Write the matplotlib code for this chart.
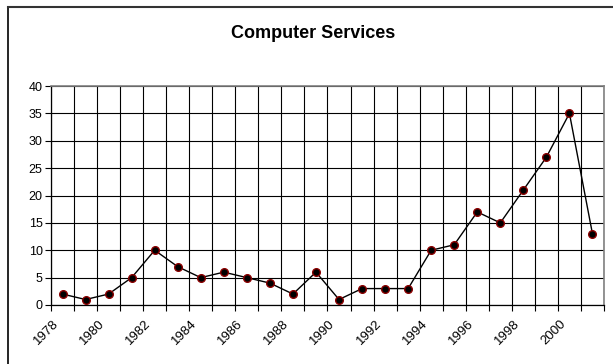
import matplotlib
matplotlib.use("Agg")
import matplotlib.pyplot as plt
from matplotlib.lines import Line2D
from matplotlib.transforms import ScaledTranslation
import numpy as np

years = list(range(1978, 2002))
values = [2, 1, 2, 5, 10, 7, 5, 6, 5, 4, 2, 6, 1, 3, 3, 3, 10, 11, 17, 15, 21, 27, 35, 13]
title = "Computer Services"

plt.rcParams["font.family"] = ["Liberation Sans", "DejaVu Sans"]

fig = plt.figure(figsize=(6.13, 3.64), dpi=100)
ax = fig.add_axes([0.0832, 0.1621, 0.9021, 0.6016])

x = np.arange(len(years))
ax.plot(x, values, color="black", lw=1.0, marker="o", markersize=5.5,
        markerfacecolor="black", markeredgecolor="#8b0000", markeredgewidth=1.0,
        zorder=3)

# category axis: ticks and gridlines between categories, labels every other year
ax.set_xlim(-0.5, len(years) - 0.5)
ax.set_xticks(np.arange(len(years) + 1) - 0.5)
ax.set_xticklabels([])
ax.tick_params(axis="x", which="major", direction="out", length=4, width=0.8)
ax.set_xticks(x[::2], minor=True)
ax.set_xticklabels([str(y) for y in years[::2]], minor=True, rotation=45,
                   ha="right", rotation_mode="anchor", fontsize=9.5)
ax.tick_params(axis="x", which="minor", length=0, pad=9)
shift = ScaledTranslation(-0.10, 0, fig.dpi_scale_trans)
for lab in ax.get_xticklabels(minor=True):
    lab.set_transform(lab.get_transform() + shift)

ax.set_ylim(0, 40)
ax.set_yticks(range(0, 41, 5))
ax.tick_params(axis="y", direction="out", length=4, width=0.8, labelsize=9, pad=2)

ax.grid(True, which="major", color="black", lw=0.8)
ax.set_axisbelow(True)
for side in ("top", "right"):
    ax.spines[side].set_color("#808080")
    ax.spines[side].set_linewidth(1.2)
for side in ("left", "bottom"):
    ax.spines[side].set_color("black")
    ax.spines[side].set_linewidth(0.9)

fig.text(313 / 613, 1 - 33 / 364, title, ha="center", va="center", fontsize=13,
         fontweight="bold")

# chart frame
fig.add_artist(Line2D([8 / 613, 8 / 613], [0, 1 - 7 / 364], color="black", lw=1.2,
                      transform=fig.transFigure))
fig.add_artist(Line2D([8 / 613, 1], [1 - 7 / 364, 1 - 7 / 364], color="#333333",
                      lw=1.5, transform=fig.transFigure))

fig.savefig("out.png", dpi=100)
